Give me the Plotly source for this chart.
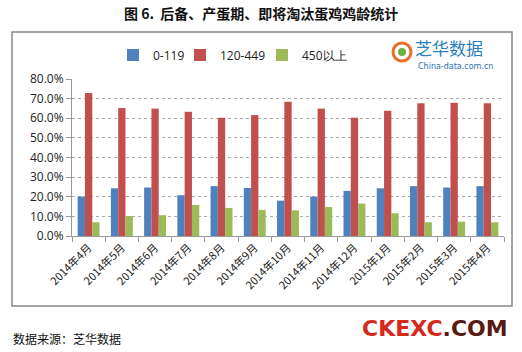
import plotly.graph_objects as go

categories = ["2014年4月", "2014年5月", "2014年6月", "2014年7月", "2014年8月", "2014年9月",
              "2014年10月", "2014年11月", "2014年12月", "2015年1月", "2015年2月", "2015年3月", "2015年4月"]
s_0_119 = [0.201, 0.243, 0.247, 0.208, 0.254, 0.245, 0.180, 0.201, 0.230, 0.243, 0.254, 0.247, 0.254]
s_120_449 = [0.729, 0.652, 0.649, 0.633, 0.603, 0.616, 0.684, 0.649, 0.603, 0.638, 0.676, 0.679, 0.676]
s_450 = [0.070, 0.102, 0.106, 0.158, 0.143, 0.133, 0.131, 0.148, 0.165, 0.116, 0.070, 0.073, 0.070]
series_names = ["0-119", "120-449", "450以上"]
colors = ["#4F81BD", "#C0504D", "#9BBB59"]
legend_ids = ["legend", "legend2", "legend3"]

fig = go.Figure()
for name, vals, c, lg in zip(series_names, [s_0_119, s_120_449, s_450], colors, legend_ids):
    fig.add_trace(go.Bar(x=categories, y=vals, name=name, legend=lg,
                         marker=dict(color=c, line=dict(width=0))))

L, R, T, B = 72, 18, 79, 116
W, H = 522, 352
pw, ph = W - L - R, H - T - B

def px(x):
    return (x - L) / pw

def py(y):
    return (H - B - y) / ph

def leg(xpix):
    return dict(orientation="h", x=px(xpix), y=py(55), xanchor="left", yanchor="middle",
                font=dict(size=12, family="Open Sans, sans-serif", color="#222"),
                itemwidth=30, bgcolor="rgba(0,0,0,0)")

fig.update_layout(
    width=W, height=H,
    margin=dict(l=L, r=R, t=T, b=B),
    paper_bgcolor="white", plot_bgcolor="white",
    barmode="group", bargap=0.34, bargroupgap=0,
    font=dict(family="Noto Sans CJK SC, sans-serif", color="#222"),
    showlegend=True,
    legend=leg(113), legend2=leg(180), legend3=leg(262),
    xaxis=dict(tickangle=-45, tickfont=dict(size=11, family="Noto Sans CJK SC"),
               ticks="outside", tickson="boundaries", ticklen=5, tickcolor="#999",
               showline=True, linecolor="#999", linewidth=1, showgrid=False),
    yaxis=dict(range=[0, 0.8], dtick=0.1, tickformat=".1%",
               tickfont=dict(size=12, family="Open Sans, sans-serif", color="#222"),
               showgrid=True, gridcolor="#aaa", griddash="dot", gridwidth=1,
               ticks="outside", ticklen=5, tickcolor="#999",
               showline=True, linecolor="#999", zeroline=False),
)

# outer chart box
fig.add_shape(type="rect", xref="paper", yref="paper",
              x0=px(12), x1=px(512), y0=py(306), y1=py(32),
              line=dict(color="#888", width=1.5), fillcolor="rgba(0,0,0,0)", layer="below")

# title
fig.add_annotation(xref="paper", yref="paper", x=px(261), y=py(13), showarrow=False,
                   text="<b>图 6.  后备、产蛋期、即将淘汰蛋鸡鸡龄统计</b>",
                   font=dict(size=14, family="Noto Sans CJK SC", color="#111"),
                   xanchor="center", yanchor="middle")

# logo
fig.add_shape(type="circle", xref="paper", yref="paper",
              x0=px(393), x1=px(411), y0=py(61), y1=py(43),
              line=dict(color="#E8702A", width=3), fillcolor="rgba(0,0,0,0)")
fig.add_shape(type="circle", xref="paper", yref="paper",
              x0=px(398), x1=px(406), y0=py(56), y1=py(48),
              line=dict(width=0), fillcolor="#6DB33F")
fig.add_annotation(xref="paper", yref="paper", x=px(413), y=py(47), showarrow=False,
                   text="芝华数据", font=dict(size=17, family="Noto Sans CJK SC", color="#2A7FC0"),
                   xanchor="left", yanchor="middle")
fig.add_annotation(xref="paper", yref="paper", x=px(416), y=py(66), showarrow=False,
                   text="China-data.com.cn", font=dict(size=8, family="DejaVu Sans", color="#2A6FB0"),
                   xanchor="left", yanchor="middle")

# source
fig.add_annotation(xref="paper", yref="paper", x=px(11), y=py(338), showarrow=False,
                   text="数据来源：芝华数据", font=dict(size=12, family="Noto Sans CJK SC", color="#111"),
                   xanchor="left", yanchor="middle")

# watermark
fig.add_annotation(xref="paper", yref="paper", x=px(510), y=py(328), showarrow=False,
                   text="<b><span style='color:#D42A1E'>CKEXC</span><span style='color:#5A1A14'>.COM</span></b>",
                   font=dict(size=22, family="DejaVu Sans"),
                   xanchor="right", yanchor="middle")

fig.write_html("out.html")
